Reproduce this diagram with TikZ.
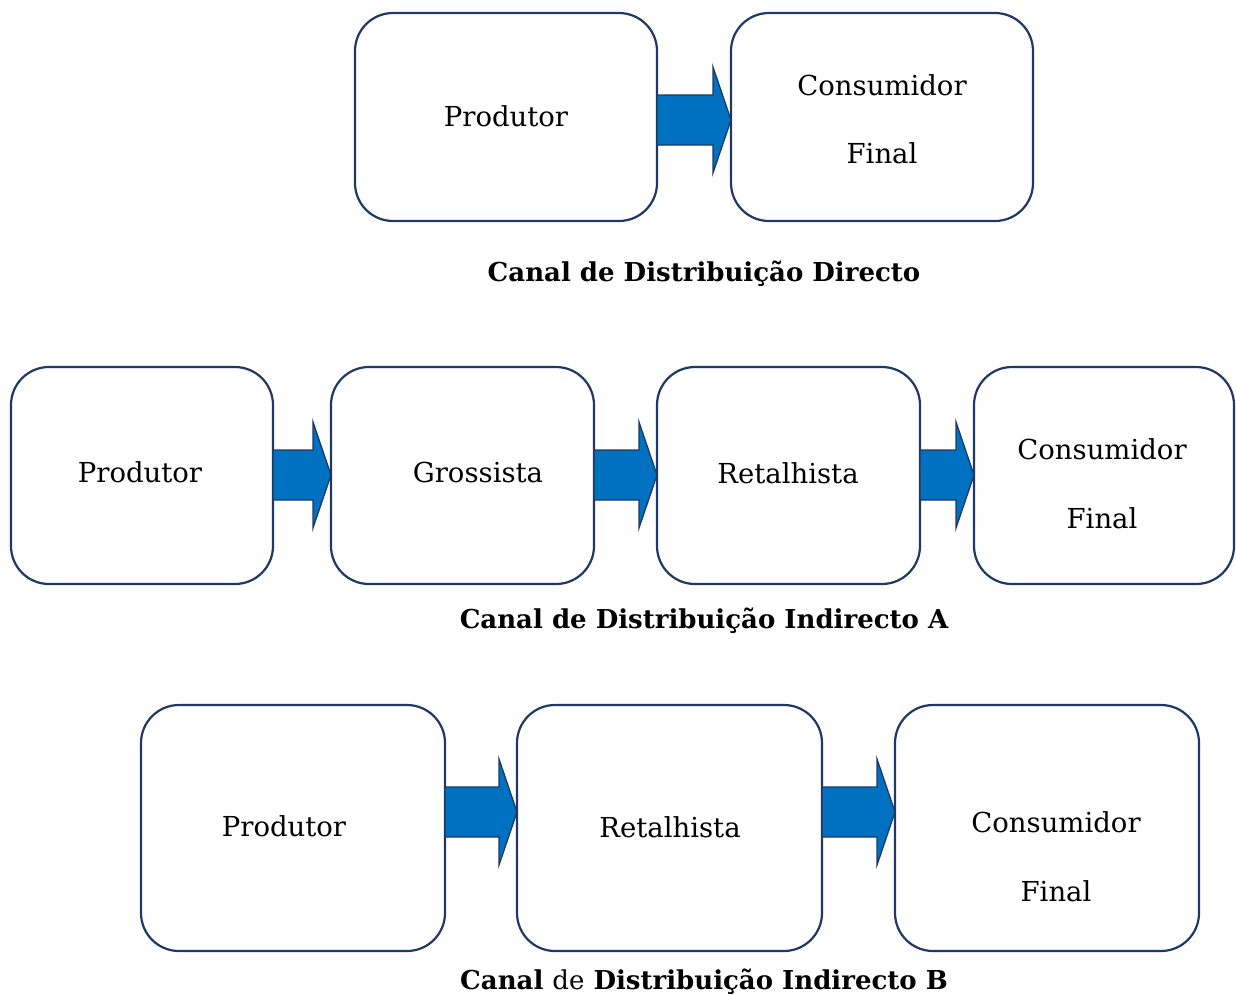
\documentclass[tikz,border=0pt]{standalone}
\usepackage{fontspec}
\setmainfont{DejaVu Serif}
\usetikzlibrary{calc}
\definecolor{boxline}{HTML}{1F3864}
\definecolor{arrowfill}{HTML}{0070C0}
\tikzset{
  stage/.style={draw=boxline, line width=2.2pt, rounded corners=38pt, fill=white,
    inner sep=0pt, outer sep=0pt},
  lbl/.style={font=\fontsize{27.5}{32}\selectfont, inner sep=0pt, anchor=center},
  title/.style={font=\bfseries\fontsize{26}{30}\selectfont, inner sep=0pt, anchor=base},
  flow/.style={fill=arrowfill, draw=boxline, line width=1.3pt, line join=miter}
}
% rounded stage box spanning (#2,#3)-(#4,#5)
\newcommand\stagebox[5]{%
  \node[stage, minimum width={#4-#2}, minimum height={#5-#3}] (#1) at ({(#2+#4)/2},{(#3+#5)/2}) {};}
% block arrow from node #1 to node #2 on the line y=#3
\newcommand\flowarrow[4]{%
  \coordinate (#4-top) at (0,#3-25);
  \coordinate (#4-bot) at (0,#3+25);
  \coordinate (#4-htop) at (0,#3-53);
  \coordinate (#4-hbot) at (0,#3+53);
  \coordinate (#4-mid) at (0,#3);
  \draw[flow] (#1.east |- #4-top) -- ($(#2.west |- #4-top)+(-18,0)$)
    -- ($(#2.west |- #4-htop)+(-18,0)$) -- (#2.west |- #4-mid)
    -- ($(#2.west |- #4-hbot)+(-18,0)$) -- ($(#2.west |- #4-bot)+(-18,0)$)
    -- (#1.east |- #4-bot) -- cycle;}
\begin{document}
\begin{tikzpicture}[x=1pt,y=-1pt]
\useasboundingbox (0,0) rectangle (1236,994);

% direct channel
\stagebox{dP}{355}{13}{657}{221}
\stagebox{dC}{731}{13}{1033}{221}
\flowarrow{dP}{dC}{120}{dA}
\node[lbl] (dPt) at (506,116) {Produtor};
\node[lbl] (dCt1) at (882,85) {Consumidor};
\node[lbl] (dCt2) at (882,153) {Final};
\node[title] (dT) at (704,281) {Canal de Distribuição Directo};

% indirect channel A
\stagebox{aP}{11}{367}{273}{584}
\stagebox{aG}{331}{367}{594}{584}
\stagebox{aR}{657}{367}{920}{584}
\stagebox{aC}{974}{367}{1234}{584}
\flowarrow{aP}{aG}{475}{aA1}
\flowarrow{aG}{aR}{475}{aA2}
\flowarrow{aR}{aC}{475}{aA3}
\node[lbl] (aPt) at (140,472) {Produtor};
\node[lbl] (aGt) at (478,472) {Grossista};
\node[lbl] (aRt) at (788,473) {Retalhista};
\node[lbl] (aCt1) at (1102,449) {Consumidor};
\node[lbl] (aCt2) at (1102,518) {Final};
\node[title] (aT) at (704,628) {Canal de Distribuição Indirecto A};

% indirect channel B
\stagebox{bP}{141}{705}{445}{951}
\stagebox{bR}{517}{705}{822}{951}
\stagebox{bC}{895}{705}{1199}{951}
\flowarrow{bP}{bR}{812}{bA1}
\flowarrow{bR}{bC}{812}{bA2}
\node[lbl] (bPt) at (284,826) {Produtor};
\node[lbl] (bRt) at (670,827) {Retalhista};
\node[lbl] (bCt1) at (1056,822) {Consumidor};
\node[lbl] (bCt2) at (1056,891) {Final};
\node[title] (bT) at (704,989) {Canal \textmd{de} Distribuição Indirecto B};
\end{tikzpicture}
\end{document}
